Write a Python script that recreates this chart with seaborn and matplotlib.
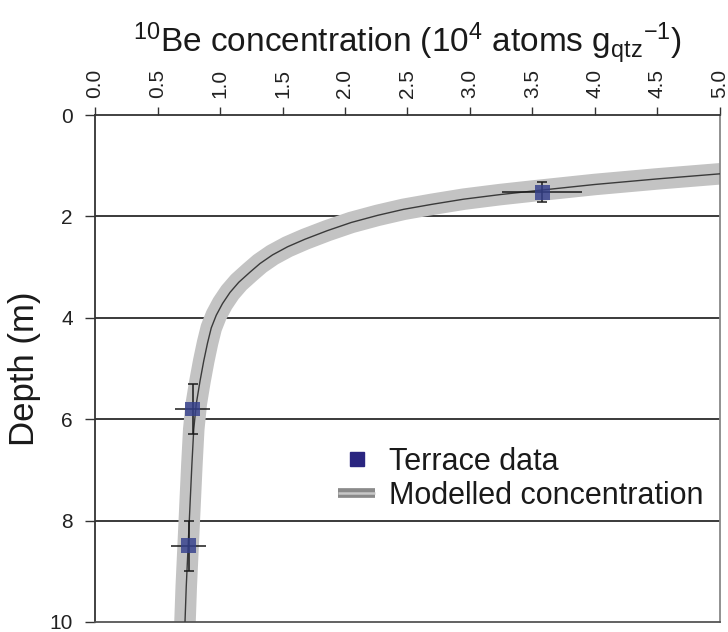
import matplotlib
matplotlib.use("Agg")
import matplotlib.pyplot as plt
import matplotlib.patheffects as pe
from matplotlib.lines import Line2D
import seaborn as sns
import pandas as pd

# Measured 10Be concentrations (10^4 atoms/g quartz) and sample depths (m)
sample_conc = [3.58, 0.78, 0.75]
sample_depth = [1.52, 5.80, 8.50]
conc_err = [0.32, 0.14, 0.14]
depth_err = [0.20, 0.50, 0.50]

# Modelled concentration-depth profile
model_conc = [5.60, 5.00, 4.50, 4.00, 3.50, 3.24, 2.95, 2.70, 2.47, 2.26,
              2.05, 1.86, 1.68, 1.54, 1.42, 1.32, 1.24, 1.15, 1.08, 1.02,
              0.97, 0.93, 0.90, 0.87, 0.84, 0.81, 0.79, 0.775, 0.76, 0.745,
              0.73, 0.72, 0.715]
model_depth = [1.03, 1.16, 1.26, 1.37, 1.50, 1.57, 1.66, 1.76, 1.86, 1.98,
               2.12, 2.28, 2.45, 2.60, 2.76, 2.93, 3.10, 3.30, 3.50, 3.72,
               3.95, 4.20, 4.50, 4.85, 5.25, 5.70, 6.20, 6.90, 7.70, 8.50,
               9.30, 10.0, 10.3]

x_ticks = [0.0, 0.5, 1.0, 1.5, 2.0, 2.5, 3.0, 3.5, 4.0, 4.5, 5.0]
y_ticks = [0, 2, 4, 6, 8, 10]

sns.set_style("white")
plt.rcParams["font.family"] = ["Liberation Sans", "DejaVu Sans"]
plt.rcParams["mathtext.fontset"] = "custom"
plt.rcParams["mathtext.rm"] = "Liberation Sans"
plt.rcParams["mathtext.it"] = "Liberation Sans"

model = pd.DataFrame({"conc": model_conc, "depth": model_depth})
samples = pd.DataFrame({"conc": sample_conc, "depth": sample_depth})

fig = plt.figure(figsize=(7.28, 6.32), dpi=100)
ax = fig.add_axes([0.1305, 0.016, 0.8585, 0.802])

band_color = "#c3c3c3"
line_color = "#3a3a3a"
marker_color = "#34408c"

# horizontal depth grid
for d in [2, 4, 6, 8]:
    ax.axhline(d, color="#3a3a3a", lw=1.4, zorder=1)

sns.lineplot(data=model, x="conc", y="depth", sort=False, estimator=None,
             color=band_color, linewidth=15.5, solid_capstyle="butt",
             solid_joinstyle="round", ax=ax, zorder=2)
sns.lineplot(data=model, x="conc", y="depth", sort=False, estimator=None,
             color=line_color, linewidth=1.0, solid_joinstyle="round",
             ax=ax, zorder=3)

ax.errorbar(sample_conc, sample_depth, xerr=conc_err, fmt="none",
            ecolor="#1a1a1a", elinewidth=1.1, capsize=0, zorder=4)
ax.errorbar(sample_conc, sample_depth, yerr=depth_err, fmt="none",
            ecolor="#1a1a1a", elinewidth=1.1, capsize=3.8, capthick=1.1, zorder=4)
sns.scatterplot(data=samples, x="conc", y="depth", marker="s", s=115,
                color=marker_color, edgecolor="none", alpha=0.82, ax=ax, zorder=5)

ax.set_xlim(0, 5.0)
ax.set_ylim(10, 0)
ax.set_xticks(x_ticks)
ax.set_xticklabels([f"{v:.1f}" for v in x_ticks], rotation=90, fontsize=15,
                   color="#222222")
ax.set_yticks(y_ticks)
ax.set_yticklabels([str(v) for v in y_ticks], fontsize=15, color="#222222")
ax.xaxis.tick_top()
ax.xaxis.set_label_position("top")
ax.tick_params(axis="x", direction="out", length=6, width=1, color="#333333",
               pad=6, top=True, bottom=False)
ax.tick_params(axis="y", direction="out", length=7, width=1, color="#333333",
               pad=9, left=True)

ax.set_xlabel(r"$^{10}$Be concentration (10$^{4}$ atoms g$_{\mathrm{qtz}}$$^{-1}$)",
              fontsize=24, labelpad=12, color="#1a1a1a")
ax.set_ylabel("Depth (m)", fontsize=25, labelpad=6, color="#1a1a1a")

for name, sp in ax.spines.items():
    sp.set_linewidth(1.3)
    sp.set_color("#333333")
ax.spines["right"].set_color("#888888")
ax.spines["bottom"].set_color("#555555")

sq = Line2D([], [], marker="s", ls="none", color="#2a2580", markersize=10.5)
model_handle = Line2D([], [], color="#c8c8c8", lw=1.8, solid_capstyle="butt",
                      path_effects=[pe.Stroke(linewidth=7, foreground="#8a8a8a",
                                              capstyle="butt"),
                                    pe.Normal()])
leg = ax.legend([sq, model_handle], ["Terrace data", "Modelled concentration"],
                loc="upper left", bbox_to_anchor=(0.37, 0.37), frameon=False,
                fontsize=22, handlelength=1.2, handletextpad=0.45,
                labelspacing=0.15, borderaxespad=0)
for t in leg.get_texts():
    t.set_color("#1a1a1a")

fig.savefig("out.png", dpi=100)
